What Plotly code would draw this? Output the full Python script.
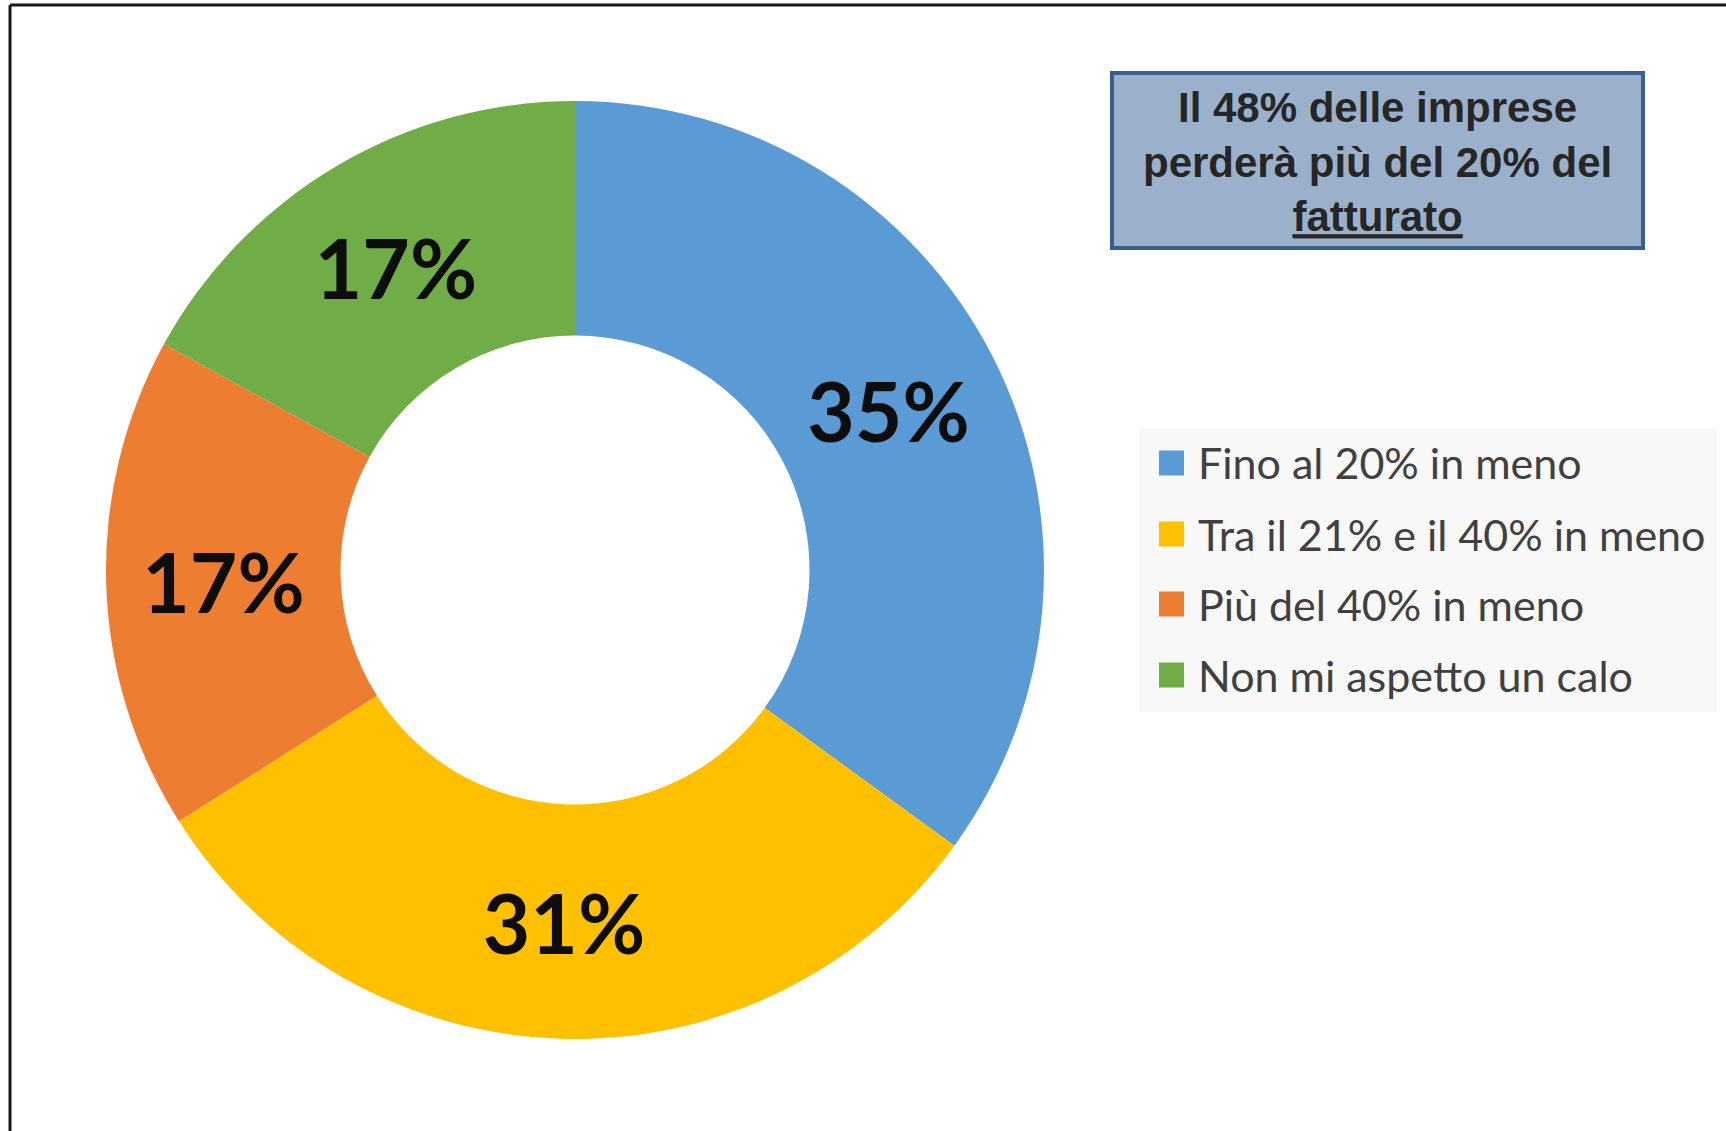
import plotly.graph_objects as go

categories = ["Fino al 20% in meno", "Tra il 21% e il 40% in meno", "Più del 40% in meno", "Non mi aspetto un calo"]
values = [35, 31, 17, 17]
colors = ["#5B9BD5", "#FFC000", "#ED7D31", "#70AD47"]
callout = "Il 48% delle imprese<br>perderà più del 20% del<br><u>fatturato</u>"

W, H = 1726, 1131

def px(x):
    return x / W

def py(y):
    return 1 - y / H

cx, cy, r = 575, 570, 469

fig = go.Figure()
fig.add_trace(go.Pie(
    labels=categories, values=values, hole=0.5, sort=False, direction="clockwise",
    rotation=0,
    marker=dict(colors=colors, line=dict(width=0)),
    texttemplate="%{percent:.0%}", textposition="inside", insidetextorientation="horizontal",
    textfont=dict(family="Lato", size=82, color="#0D0D0D", weight="bold"),
    domain=dict(x=[px(cx - r), px(cx + r)], y=[py(cy + r), py(cy - r)]),
    showlegend=False, hoverinfo="label+percent",
))

shapes = []
annotations = []
# frame lines (top, left)
shapes.append(dict(type="line", xref="paper", yref="paper", x0=px(10), x1=1.0, y0=py(5), y1=py(5),
                   line=dict(color="#1A1A1A", width=3)))
shapes.append(dict(type="line", xref="paper", yref="paper", x0=px(10), x1=px(10), y0=py(5), y1=0,
                   line=dict(color="#1A1A1A", width=3)))
# callout box
shapes.append(dict(type="rect", xref="paper", yref="paper", x0=px(1112), x1=px(1643), y0=py(248), y1=py(73),
                   fillcolor="#9BB1CB", line=dict(color="#375E8F", width=4)))
annotations.append(dict(xref="paper", yref="paper", x=px(1377), y=py(162), text="<b>" + callout + "</b>",
                        showarrow=False, xanchor="center", yanchor="middle",
                        font=dict(family="Liberation Sans", size=42, color="#262626")))
# legend background
shapes.append(dict(type="rect", xref="paper", yref="paper", x0=px(1139), x1=px(1717), y0=py(712), y1=py(428),
                   fillcolor="#F8F8F8", line=dict(width=0), layer="below"))
row_y = [463, 534, 604, 675]
for cat, col, yy in zip(categories, colors, row_y):
    shapes.append(dict(type="rect", xref="paper", yref="paper", x0=px(1159), x1=px(1184),
                       y0=py(yy + 12.5), y1=py(yy - 12.5), fillcolor=col, line=dict(width=0)))
    annotations.append(dict(xref="paper", yref="paper", x=px(1196), y=py(yy), text=cat, showarrow=False,
                            xanchor="left", yanchor="middle",
                            font=dict(family="Lato", size=43, color="#404040")))

fig.update_layout(
    width=W, height=H, margin=dict(l=0, r=0, t=0, b=0),
    paper_bgcolor="white", plot_bgcolor="white",
    shapes=shapes, annotations=annotations, showlegend=False,
)
fig.write_html("out.html", config={"displayModeBar": False},
               post_script="document.body.style.margin='0';")
